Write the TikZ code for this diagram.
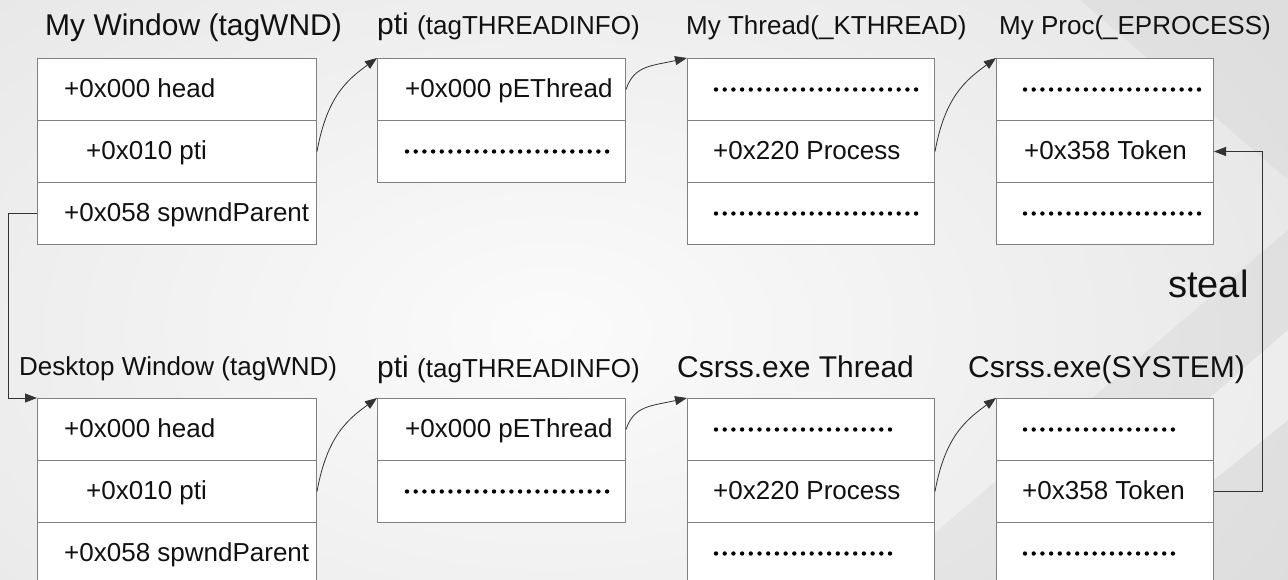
\documentclass[tikz,border=0pt]{standalone}
\usepackage{fontspec}
\setmainfont{Liberation Sans}
\usetikzlibrary{arrows.meta}
\definecolor{boxgray}{HTML}{808080}
\definecolor{bgouter}{HTML}{E6E6E6}
\definecolor{bginner}{HTML}{FBFBFB}
\definecolor{ink}{HTML}{111111}
\definecolor{linec}{HTML}{333333}
\newcommand\rowfnt{\fontsize{26}{30}\selectfont}
\newcommand\bigfnt{\fontsize{30}{34}\selectfont}
\newcommand\midfnt{\fontsize{26}{30}\selectfont}
\begin{document}
\begin{tikzpicture}[x=1pt,y=-1pt,
  row/.style={draw=boxgray, line width=1pt, fill=white, rectangle, minimum width=#1, minimum height=62pt, inner sep=0pt, anchor=north west},
  rowtext/.style={anchor=west, inner sep=0pt, text height=20pt, text depth=4pt, font=\rowfnt, text=ink},
  title/.style={anchor=base west, inner sep=0pt, text=ink},
  dotrow/.style={draw=black, line width=4.4pt, line cap=round, dash pattern=on 0pt off 8.7pt},
  conn/.style={draw=linec, line width=0.8pt, -{Triangle[length=12pt,width=9pt]}}
]
\clip (0,0) rectangle (1288,580);
% background
\fill[bgouter] (0,0) rectangle (1288,580);
\shade[inner color=bginner, outer color=bgouter] (-300,-200) rectangle (1400,860);
\fill[black, opacity=0.035] (880,580) -- (1288,230) -- (1288,580) -- cycle;
\fill[white, opacity=0.45] (1000,580) -- (1288,330) -- (1288,420) -- (1090,580) -- cycle;
\fill[black, opacity=0.03] (1080,0) -- (1288,0) -- (1288,180) -- cycle;

% ---------- titles ----------
\node[title, font=\bigfnt] (tt1) at (45,36) {My Window (tagWND)};
\node[title, font=\bigfnt] (tt2) at (377,35) {pti {\midfnt(tagTHREADINFO)}};
\node[title, font=\midfnt] (tt3) at (686,35) {My Thread(\_KTHREAD)};
\node[title, font=\midfnt] (tt4) at (999,35) {My Proc(\_EPROCESS)};
\node[title, font=\midfnt] (bt1) at (19,375) {Desktop Window (tagWND)};
\node[title, font=\bigfnt] (bt2) at (377,377) {pti {\midfnt(tagTHREADINFO)}};
\node[title, font=\bigfnt] (bt3) at (677,377) {Csrss.exe Thread};
\node[title, font=\bigfnt] (bt4) at (968,377) {Csrss.exe(SYSTEM)};
\node[title, font=\fontsize{38}{42}\selectfont] (steal) at (1168,297) {steal};

% ---------- top row ----------
\node[row=279pt] (w1a) at (37,58) {};
\node[row=279pt] (w1b) at (37,120) {};
\node[row=279pt] (w1c) at (37,182) {};
\node[rowtext] (w1at) at ([xshift=27]w1a.west) {+0x000 head};
\node[rowtext] (w1bt) at ([xshift=49]w1b.west) {+0x010 pti};
\node[rowtext] (w1ct) at ([xshift=27]w1c.west) {+0x058 spwndParent};

\node[row=248pt] (p1a) at (377,58) {};
\node[row=248pt] (p1b) at (377,120) {};
\node[rowtext] (p1at) at ([xshift=28]p1a.west) {+0x000 pEThread};
\draw[dotrow] ([xshift=30]p1b.west) -- ([xshift=233]p1b.west);

\node[row=247pt] (t1a) at (687,58) {};
\node[row=247pt] (t1b) at (687,120) {};
\node[row=247pt] (t1c) at (687,182) {};
\draw[dotrow] ([xshift=29]t1a.west) -- ([xshift=234]t1a.west);
\node[rowtext] (t1bt) at ([xshift=26]t1b.west) {+0x220 Process};
\draw[dotrow] ([xshift=29]t1c.west) -- ([xshift=234]t1c.west);

\node[row=217pt] (e1a) at (996,58) {};
\node[row=217pt] (e1b) at (996,120) {};
\node[row=217pt] (e1c) at (996,182) {};
\draw[dotrow] ([xshift=29]e1a.west) -- ([xshift=208]e1a.west);
\node[rowtext] (e1bt) at ([xshift=28]e1b.west) {+0x358 Token};
\draw[dotrow] ([xshift=29]e1c.west) -- ([xshift=208]e1c.west);

% ---------- bottom row ----------
\node[row=279pt] (w2a) at (37,398) {};
\node[row=279pt] (w2b) at (37,460) {};
\node[row=279pt] (w2c) at (37,522) {};
\node[rowtext] (w2at) at ([xshift=27]w2a.west) {+0x000 head};
\node[rowtext] (w2bt) at ([xshift=49]w2b.west) {+0x010 pti};
\node[rowtext] (w2ct) at ([xshift=27]w2c.west) {+0x058 spwndParent};

\node[row=248pt] (p2a) at (377,398) {};
\node[row=248pt] (p2b) at (377,460) {};
\node[rowtext] (p2at) at ([xshift=28]p2a.west) {+0x000 pEThread};
\draw[dotrow] ([xshift=30]p2b.west) -- ([xshift=233]p2b.west);

\node[row=247pt] (t2a) at (687,398) {};
\node[row=247pt] (t2b) at (687,460) {};
\node[row=247pt] (t2c) at (687,522) {};
\draw[dotrow] ([xshift=29]t2a.west) -- ([xshift=207]t2a.west);
\node[rowtext] (t2bt) at ([xshift=26]t2b.west) {+0x220 Process};
\draw[dotrow] ([xshift=29]t2c.west) -- ([xshift=207]t2c.west);

\node[row=217pt] (e2a) at (996,398) {};
\node[row=217pt] (e2b) at (996,460) {};
\node[row=217pt] (e2c) at (996,522) {};
\draw[dotrow] ([xshift=29]e2a.west) -- ([xshift=182]e2a.west);
\node[rowtext] (e2bt) at ([xshift=26]e2b.west) {+0x358 Token};
\draw[dotrow] ([xshift=29]e2c.west) -- ([xshift=182]e2c.west);

% ---------- connectors ----------
\draw[conn] (w1b.east) .. controls +(10,-55) and +(-30,22) .. (p1a.north west);
\draw[conn] (p1a.east) .. controls +(8,-24) and +(-36,8) .. (t1a.north west);
\draw[conn] (t1b.east) .. controls +(10,-55) and +(-30,22) .. (e1a.north west);

\draw[conn] (w2b.east) .. controls +(10,-55) and +(-30,22) .. (p2a.north west);
\draw[conn] (p2a.east) .. controls +(8,-24) and +(-36,8) .. (t2a.north west);
\draw[conn] (t2b.east) .. controls +(10,-55) and +(-30,22) .. (e2a.north west);

\draw[conn] (w1c.west) -- ++(-29,0) coordinate (lbend) |- (w2a.north west);
\draw[conn] (e2b.east) -- ++(48,0) coordinate (rbend) |- (e1b.east);
\end{tikzpicture}
\end{document}
